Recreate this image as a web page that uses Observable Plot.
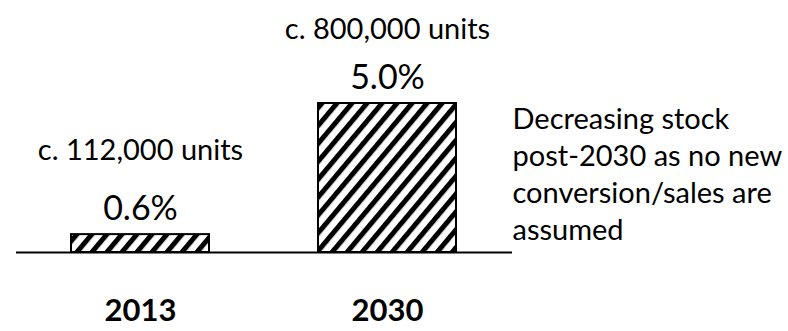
<!DOCTYPE html>
<html><head><meta charset="utf-8">
<script src="https://cdn.jsdelivr.net/npm/d3@7"></script>
<script src="https://cdn.jsdelivr.net/npm/@observablehq/plot@0.6"></script>
<style>body{margin:0;background:#fff;}</style>
</head><body><div id="chart"></div>
<script>
const years = ["2013", "2030"];
const shares = [0.6, 5.0];
const unitLabels = ["c. 112,000 units", "c. 800,000 units"];
const noteLines = ["Decreasing stock", "post-2030 as no new", "conversion/sales are", "assumed"];

const data = years.map((year, i) => ({year, share: shares[i], units: unitLabels[i]}));

const unitText = (filter, dy) => Plot.text(data, {filter, x: "year", y: "share", text: "units", lineAnchor: "bottom", dy, fontSize: 29, fill: "#000"});

const chart = Plot.plot({
  width: 788, height: 331,
  marginTop: 103, marginBottom: 79, marginLeft: 16, marginRight: 276,
  style: {fontFamily: "Lato", color: "#000", background: "#fff"},
  x: {domain: years, paddingInner: 0.44, paddingOuter: 0.222},
  y: {domain: [0, 5], axis: null},
  marks: [
    Plot.barY(data, {x: "year", y: "share", fill: "url(#hatch)", stroke: "#000", strokeWidth: 2}),
    Plot.ruleY([0], {stroke: "#000", strokeWidth: 2}),
    Plot.text(data, {x: "year", y: "share", text: d => d.share.toFixed(1) + "%", lineAnchor: "bottom", dy: -15, fontSize: 34, fill: "#000"}),
    unitText(d => d.share < 1, -75),
    unitText(d => d.share >= 1, -65),
    Plot.text([noteLines.join("\n")], {text: d => d, frameAnchor: "top-right", textAnchor: "start", lineAnchor: "top", dx: 0, dy: -1, lineHeight: 1.28, fontSize: 29, fill: "#000"}),
    Plot.axisX({tickSize: 0, tickPadding: 46, fontSize: 31, fontWeight: "bold", label: null, fill: "#000"})
  ]
});

const ns = "http://www.w3.org/2000/svg";
const defs = document.createElementNS(ns, "defs");
defs.innerHTML = `<pattern id="hatch" patternUnits="userSpaceOnUse" width="11.5" height="11.5" patternTransform="rotate(40)"><rect width="11.5" height="11.5" fill="#fff"/><rect width="5" height="11.5" fill="#000"/></pattern>`;
chart.prepend(defs);
document.getElementById("chart").appendChild(chart);
</script>
</body></html>
